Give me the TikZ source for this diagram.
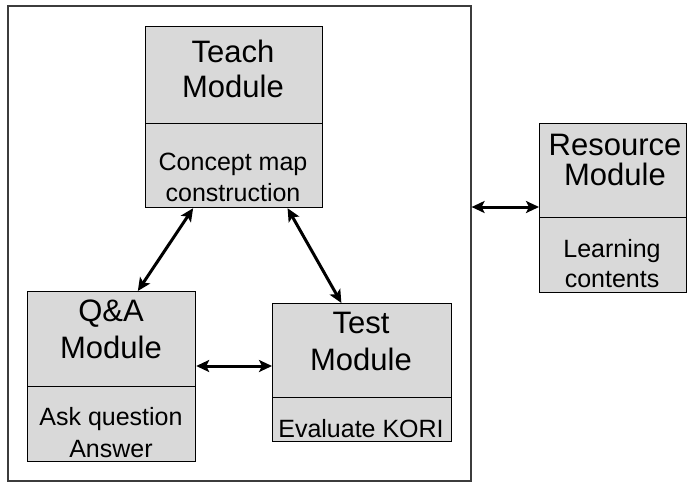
\documentclass[tikz,border=0pt]{standalone}
\usepackage{fontspec}
\setmainfont{Liberation Sans}
\usetikzlibrary{arrows.meta,calc}
\definecolor{boxfill}{RGB}{217,217,217}
\definecolor{frame}{RGB}{60,60,60}
\tikzset{
  part/.style={draw=black, line width=1.2pt, fill=boxfill, inner sep=0pt, anchor=north west},
  title/.style={font=\fontsize{31}{35}\selectfont, anchor=base, inner sep=0pt},
  detail/.style={font=\fontsize{25}{30}\selectfont, anchor=base, inner sep=0pt},
  tip/.tip={Stealth[length=13pt,width=12pt,inset=3pt]},
  link/.style={draw=black, line width=3pt, tip-tip}
}
\begin{document}
\begin{tikzpicture}[x=1pt,y=-1pt]
\useasboundingbox (0,0) rectangle (687,483);
% enclosing frame of the three core modules
\node[draw=frame, line width=1.6pt, inner sep=0pt, minimum width=463pt, minimum height=475pt, anchor=north west] (outer) at (7,5) {};

% Teach module
\node[part, minimum width=177pt, minimum height=97pt] (teachT) at (145,26) {};
\node[part, minimum width=177pt, minimum height=84pt] (teachB) at (145,123) {};
\node[title] (teachA) at (233,62) {Teach};
\node[title] (teachM) at (233,97) {Module};
\node[detail] (teachC) at (233,170) {Concept map};
\node[detail] (teachD) at (233,201) {construction};

% Q&A module
\node[part, minimum width=168pt, minimum height=95pt] (qaT) at (27,291) {};
\node[part, minimum width=168pt, minimum height=75pt] (qaB) at (27,386) {};
\node[title] (qaA) at (111,321) {Q\&A};
\node[title] (qaM) at (111,358) {Module};
\node[detail] (qaC) at (111,425) {Ask question};
\node[detail] (qaD) at (111,457) {Answer};

% Test module
\node[part, minimum width=179pt, minimum height=94pt] (testT) at (272,303) {};
\node[part, minimum width=179pt, minimum height=44pt] (testB) at (272,397) {};
\node[title] (testA) at (361,333) {Test};
\node[title] (testM) at (361,370) {Module};
\node[detail] (testC) at (361,437) {Evaluate KORI};

% Resource module
\node[part, minimum width=147pt, minimum height=94pt] (resT) at (539,123) {};
\node[part, minimum width=147pt, minimum height=75pt] (resB) at (539,217) {};
\node[title] (resA) at (615,155) {Resource};
\node[title] (resM) at (615,185) {Module};
\node[detail] (resC) at (612,257) {Learning};
\node[detail] (resD) at (612,287) {contents};

% connectors
\coordinate (hline) at (0,366);
\coordinate (rline) at (0,207);
\draw[link] ($(teachB.south west)!0.27!(teachB.south east)$) -- ($(qaT.north west)!0.655!(qaT.north east)$);
\draw[link] ($(teachB.south west)!0.80!(teachB.south east)$) -- ($(testT.north west)!0.385!(testT.north east)$);
\draw[link] (qaT.east |- hline) -- (testT.west |- hline);
\draw[link] (outer.east |- rline) -- (resT.west |- rline);
\end{tikzpicture}
\end{document}
